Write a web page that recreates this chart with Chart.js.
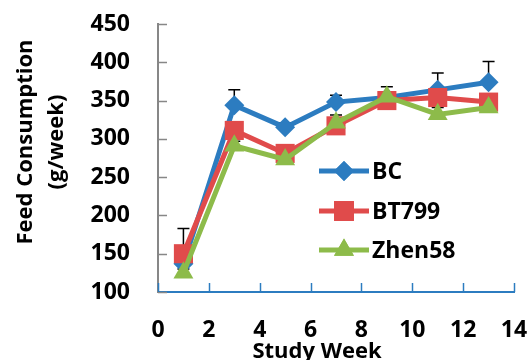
<!DOCTYPE html>
<html>
<head>
<meta charset="utf-8">
<script src="https://cdn.jsdelivr.net/npm/chart.js@4/dist/chart.umd.min.js"></script>
<style>
html,body{margin:0;padding:0;background:#fff;}
#wrap{width:529px;height:360px;position:relative;}
</style>
</head>
<body>
<div id="wrap"><canvas id="c" width="529" height="360"></canvas></div>
<script>
// ---- data ----
const weeks = [1, 3, 5, 7, 9, 11, 13];
const bcValues = [137, 344, 315, 348, 354, 364, 374];
const bt799Values = [150, 311, 281, 317, 350, 354, 348];
const zhen58Values = [125, 291, 273, 321, 355, 332, 341];
const bcErrors = [46, 20, 6, 9, 14, 22, 27];
const bt799Errors = [8, 8, 11, 14, 6, 8, 6];
const zhen58Errors = [5, 6, 6, 6, 6, 9, 6];
const xTicks = [0, 2, 4, 6, 8, 10, 12, 14];
const yTicks = [100, 150, 200, 250, 300, 350, 400, 450];
const seriesNames = ['BC', 'BT799', 'Zhen58'];
const yTitleLines = ['Feed Consumption', '(g/week)'];
const xTitle = 'Study Week';

const FONT = '"Open Sans"';
const BLUE = '#2C7CC0', RED = '#E04B4B', GREEN = '#8DBB4A';

function pts(vals){ return weeks.map((w,i)=>({x:w, y:vals[i]})); }

const errorSets = [bcErrors, bt799Errors, zhen58Errors];

const errorBarPlugin = {
  id: 'errbars',
  beforeDatasetsDraw(chart){
    const {ctx, scales:{x, y}} = chart;
    ctx.save();
    ctx.strokeStyle = '#000';
    ctx.lineWidth = 1.5;
    chart.data.datasets.forEach((ds, di) => {
      const errs = errorSets[di];
      ds.data.forEach((p, i) => {
        const px = x.getPixelForValue(p.x);
        const py = y.getPixelForValue(p.y);
        const pt = y.getPixelForValue(p.y + errs[i]);
        ctx.beginPath();
        ctx.moveTo(px, py); ctx.lineTo(px, pt);
        ctx.moveTo(px - 6, pt); ctx.lineTo(px + 6, pt);
        ctx.stroke();
      });
    });
    ctx.restore();
  }
};

const decorPlugin = {
  id: 'decor',
  afterDraw(chart){
    const {ctx, chartArea:a, scales:{x, y}} = chart;
    ctx.save();
    // inward tick marks
    ctx.lineWidth = 1.5;
    ctx.strokeStyle = '#878787';
    yTicks.forEach(v => {
      const py = Math.round(y.getPixelForValue(v)) + 0.5;
      ctx.beginPath(); ctx.moveTo(a.left, py); ctx.lineTo(a.left + 9, py); ctx.stroke();
    });
    ctx.strokeStyle = BLUE;
    xTicks.forEach(v => {
      const px = Math.round(x.getPixelForValue(v)) + 0.5;
      ctx.beginPath(); ctx.moveTo(px, a.bottom); ctx.lineTo(px, a.bottom - 9); ctx.stroke();
    });
    // legend
    const colors = [BLUE, RED, GREEN];
    const styles = ['rectRot', 'rect', 'triangle'];
    const radii = [10, 14, 11.5];
    const ly = [171, 211, 250];
    chart.data.datasets.forEach((ds, i) => {
      ctx.strokeStyle = colors[i];
      ctx.fillStyle = colors[i];
      ctx.lineWidth = 5;
      ctx.beginPath(); ctx.moveTo(319, ly[i]); ctx.lineTo(369, ly[i]); ctx.stroke();
      Chart.helpers.drawPoint(ctx, {pointStyle: styles[i], radius: radii[i], rotation: 0, borderWidth: 0}, 344, ly[i]);
      ctx.fill();
      ctx.fillStyle = '#000';
      ctx.font = 'bold 23px ' + FONT;
      ctx.textBaseline = 'middle';
      ctx.textAlign = 'left';
      ctx.fillText(seriesNames[i], 372, ly[i] + 1);
    });
    // y title
    ctx.fillStyle = '#000';
    ctx.font = 'bold 22px ' + FONT;
    ctx.textAlign = 'center';
    ctx.textBaseline = 'middle';
    ctx.translate(26, 142);
    ctx.rotate(-Math.PI/2);
    ctx.fillText(yTitleLines[0], 0, 0);
    ctx.fillText(yTitleLines[1], 0, 31);
    ctx.setTransform(1,0,0,1,0,0);
    // x title
    ctx.font = 'bold 22px ' + FONT;
    ctx.textBaseline = 'alphabetic';
    ctx.fillText(xTitle, 317, 358);
    ctx.restore();
  }
};

const common = {
  showLine: true,
  borderWidth: 5,
  pointBorderWidth: 0,
  pointHoverRadius: 0,
  tension: 0,
  clip: false
};

function noPad(s){ s.paddingTop = 0; s.paddingBottom = 0; s.paddingLeft = 0; s.paddingRight = 0; }

new Chart(document.getElementById('c'), {
  type: 'scatter',
  data: {
    datasets: [
      Object.assign({}, common, {label: seriesNames[0], data: pts(bcValues), borderColor: BLUE, backgroundColor: BLUE, pointBackgroundColor: BLUE, pointStyle: 'rectRot', pointRadius: 10, order: 3}),
      Object.assign({}, common, {label: seriesNames[1], data: pts(bt799Values), borderColor: RED, backgroundColor: RED, pointBackgroundColor: RED, pointStyle: 'rect', pointRadius: 13.5, order: 2}),
      Object.assign({}, common, {label: seriesNames[2], data: pts(zhen58Values), borderColor: GREEN, backgroundColor: GREEN, pointBackgroundColor: GREEN, pointStyle: 'triangle', pointRadius: 11.5, order: 1})
    ]
  },
  options: {
    responsive: false,
    animation: false,
    events: [],
    layout: {padding: {top: 24, right: 15, left: 0, bottom: 0}},
    plugins: {legend: {display: false}, tooltip: {enabled: false}},
    scales: {
      x: {
        type: 'linear', min: 0, max: 14,
        afterBuildTicks(s){ s.ticks = xTicks.map(v => ({value: v})); },
        afterFit(s){ s.height = 68; noPad(s); },
        grid: {display: true, drawOnChartArea: false, drawTicks: false},
        border: {display: true, color: BLUE, width: 2},
        ticks: {padding: 25, color: '#000', font: {family: 'Open Sans', weight: 'bold', size: 23}, maxRotation: 0}
      },
      y: {
        type: 'linear', min: 100, max: 450,
        afterBuildTicks(s){ s.ticks = yTicks.map(v => ({value: v})); },
        afterFit(s){ s.width = 158; noPad(s); },
        grid: {display: true, drawOnChartArea: false, drawTicks: false},
        border: {display: true, color: '#878787', width: 2},
        ticks: {padding: 28, color: '#000', font: {family: 'Open Sans', weight: 'bold', size: 23}}
      }
    }
  },
  plugins: [errorBarPlugin, decorPlugin]
});
</script>
</body>
</html>
